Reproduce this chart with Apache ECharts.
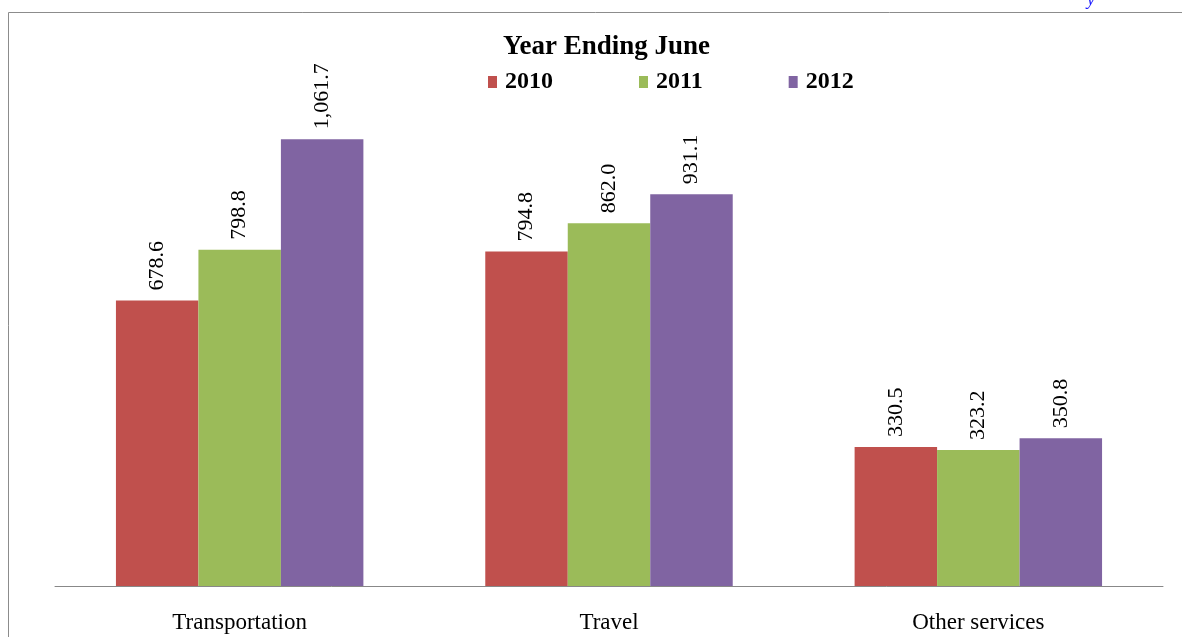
<!DOCTYPE html>
<html><head><meta charset="utf-8">
<script src="https://cdn.jsdelivr.net/npm/echarts@6/dist/echarts.min.js"></script>
<style>html,body{margin:0;padding:0;background:#fff}#c{width:1182px;height:637px}</style>
</head><body><div id="c"></div>
<script>
const categories = ['Transportation', 'Travel', 'Other services'];
const seriesNames = ['2010', '2011', '2012'];
const values2010 = [678.6, 794.8, 330.5];
const values2011 = [798.8, 862.0, 323.2];
const values2012 = [1061.7, 931.1, 350.8];
const colors = ['#C0504D', '#9BBB59', '#8064A2'];
const serif = '"Liberation Serif","Times New Roman",serif';

function fmt(v){ return v.toLocaleString('en-US',{minimumFractionDigits:1,maximumFractionDigits:1}); }

const data = [values2010, values2011, values2012];
const chart = echarts.init(document.getElementById('c'));
chart.setOption({
  animation: false,
  title: { text: 'Year Ending June', left: 498, top: 29,
    textStyle: { fontFamily: serif, fontWeight: 'bold', fontSize: 27, color: '#000' } },
  legend: { top: 70, left: 488, padding: 0, itemGap: 86, itemWidth: 9, itemHeight: 12, icon: 'rect',
    textStyle: { fontFamily: serif, fontWeight: 'bold', fontSize: 24, color: '#000', padding: [0, 0, 0, 3] },
    data: seriesNames },
  grid: { left: 55, right: 19, top: 81, bottom: 51 },
  xAxis: { type: 'category', data: categories,
    axisLine: { lineStyle: { color: '#888', width: 1 } }, axisTick: { show: false },
    axisLabel: { fontFamily: serif, fontSize: 23, color: '#000', margin: 25 } },
  yAxis: { type: 'value', min: 0, max: 1200, show: false, splitLine: { show: false } },
  graphic: [
    { type: 'rect', shape: { x: 8.5, y: 12.5, width: 1300, height: 800 },
      style: { fill: 'none', stroke: '#8c8c8c', lineWidth: 1 }, silent: true },
    { type: 'text', left: 1087, top: -9,
      style: { text: 'y', fill: '#1a1aff', font: 'italic 18px "Liberation Serif", serif' } }
  ],
  series: seriesNames.map((n, i) => ({
    name: n, type: 'bar', data: data[i], barGap: 0, barCategoryGap: '33%',
    itemStyle: { color: colors[i] },
    label: { show: true, position: 'top', rotate: 90, align: 'left', verticalAlign: 'middle',
      distance: 10, fontFamily: serif, fontSize: 22, color: '#000',
      formatter: p => fmt(p.value) }
  }))
});
</script></body></html>
